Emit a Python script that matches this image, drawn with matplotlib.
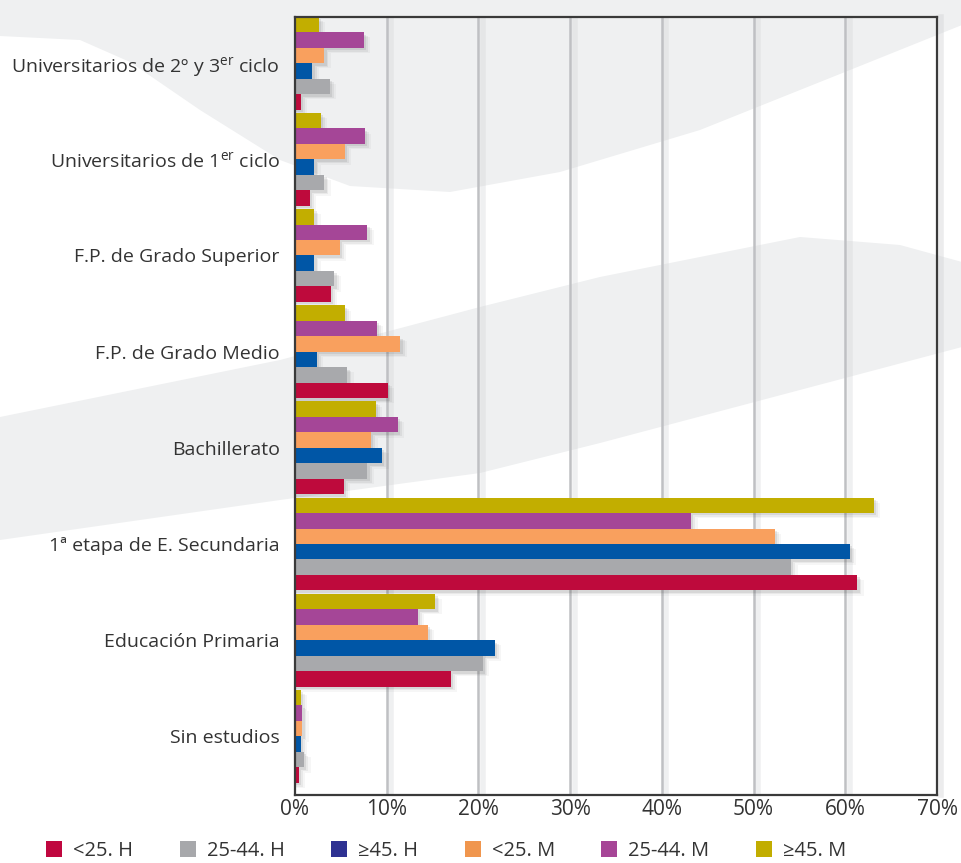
import matplotlib
matplotlib.use("Agg")
import matplotlib.pyplot as plt
import numpy as np
from matplotlib.patches import Polygon, Patch

plt.rcParams['font.family'] = ['Open Sans', 'DejaVu Sans']
plt.rcParams['mathtext.fontset'] = 'custom'
plt.rcParams['mathtext.rm'] = 'Open Sans'
plt.rcParams['mathtext.default'] = 'regular'

# categories, top to bottom
categories = [r'Universitarios de 2º y 3$^{er}$ ciclo',
              r'Universitarios de 1$^{er}$ ciclo',
              'F.P. de Grado Superior',
              'F.P. de Grado Medio',
              'Bachillerato',
              '1ª etapa de E. Secundaria',
              'Educación Primaria',
              'Sin estudios']

series_names = ['<25. H', '25-44. H', '≥45. H', '<25. M', '25-44. M', '≥45. M']

# % per category (same order as categories)
h_lt25 = [0.6, 1.6, 3.9, 10.1, 5.3, 61.3, 17.0, 0.4]
h_25_44 = [3.8, 3.2, 4.3, 5.7, 7.9, 54.1, 20.5, 1.0]
h_ge45 = [1.9, 2.1, 2.1, 2.4, 9.5, 60.5, 21.8, 0.6]
m_lt25 = [3.2, 5.4, 4.9, 11.5, 8.3, 52.3, 14.5, 0.8]
m_25_44 = [7.5, 7.6, 7.9, 8.9, 11.2, 43.2, 13.4, 0.8]
m_ge45 = [2.6, 2.8, 2.1, 5.4, 8.8, 63.1, 15.3, 0.6]
series = [h_lt25, h_25_44, h_ge45, m_lt25, m_25_44, m_ge45]

bar_colors = ['#be0a3c', '#a8a9ac', '#0056a6', '#f9a05e', '#a54697', '#c2ae00']
legend_colors = ['#c0073f', '#a7a8ab', '#2e3192', '#f0964e', '#a64596', '#c2ad00']

xticks = [0, 10, 20, 30, 40, 50, 60, 70]

fig = plt.figure(figsize=(9.62, 8.63), dpi=100)
W, H = 962.0, 863.0

# faint background swooshes
def px(pts):
  return [(x / W, 1 - y / H) for x, y in pts]

swoosh_a = [(0, 0), (962, 0), (962, 25), (850, 70), (700, 130), (560, 172),
            (450, 192), (350, 186), (280, 160), (200, 110), (130, 62), (80, 40), (0, 36)]
swoosh_b = [(0, 417), (280, 360), (480, 307), (600, 277), (800, 237), (900, 245),
            (962, 262), (962, 347), (600, 443), (480, 473), (280, 500), (0, 540)]
for pts in [swoosh_a, swoosh_b]:
  fig.add_artist(Polygon(px(pts), closed=True, transform=fig.transFigure,
                         facecolor='#eff0f1', edgecolor='none', zorder=-5))

ax = fig.add_axes([295 / W, 1 - 795 / H, (937 - 295) / W, (795 - 17) / H])
ax.patch.set_alpha(0)

n = len(categories)
ycent = np.arange(n)[::-1]
bh = 0.161

# grid lines with a soft shadow
for x in xticks[1:-1]:
  ax.axvline(x + 0.5, color='#d3d4d7', lw=4, alpha=0.35, zorder=0.8)
  ax.axvline(x, color='#bfc0c3', lw=1.8, zorder=1)

# bar shadows
for j, vals in enumerate(series):
  yy = ycent + (j - 2.5) * bh
  for dx, dy, a in [(0.25, 0.025, 0.12), (0.45, 0.04, 0.08), (0.7, 0.055, 0.05)]:
    ax.barh(yy - dy, np.array(vals) + dx, height=bh, left=0, color='#555555',
            alpha=a, linewidth=0, zorder=2)

# bars
for j, vals in enumerate(series):
  yy = ycent + (j - 2.5) * bh
  ax.barh(yy, vals, height=bh, color=bar_colors[j], linewidth=0, zorder=3)

ax.set_xlim(0, 70)
ax.set_ylim(-0.61, n - 1 + 0.48)
ax.set_yticks(ycent)
ax.set_yticklabels(categories, fontsize=14, color='#333333')
ax.set_xticks(xticks)
ax.set_xticklabels([f'{x}%' for x in xticks], fontsize=15, color='#333333')
ax.tick_params(axis='y', length=0, pad=11)
ax.tick_params(axis='x', length=0, pad=3)
for s in ax.spines.values():
  s.set_color('#3a3a3a')
  s.set_linewidth(1.6)
  s.set_zorder(5)

# frame shadow on the right
ax.axvline(70.45, color='#d0d1d4', lw=4, alpha=0.4, clip_on=False, zorder=0.5)

handles = [Patch(facecolor=c, edgecolor='none') for c in legend_colors]
fig.legend(handles, series_names, loc='center left', bbox_to_anchor=(28 / W, 1 - 851 / H),
           ncol=6, frameon=False, fontsize=14.5, handlelength=0.8, handleheight=0.85,
           handletextpad=0.55, columnspacing=2.3, labelcolor='#333333')

fig.savefig('out.png', dpi=100, facecolor='white')
